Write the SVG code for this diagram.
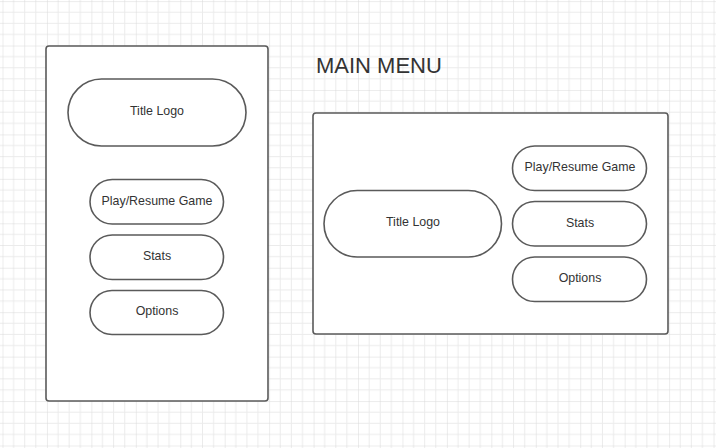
<svg xmlns="http://www.w3.org/2000/svg" width="716" height="448" viewBox="0 0 716 448">
<defs>
<pattern id="grid" width="44.44" height="44.44" patternUnits="userSpaceOnUse" patternTransform="translate(2.5 1.1)">
<path d="M11.11 0V44.44M22.22 0V44.44M33.33 0V44.44M0 11.11H44.44M0 22.22H44.44M0 33.33H44.44" stroke="#ebebeb" stroke-width="1" fill="none"/>
<path d="M0 0V44.44M0 0H44.44" stroke="#d9d9d9" stroke-width="1" fill="none"/>
</pattern>
<style>
.frame{fill:#fff;stroke:#5a5a5a;stroke-width:1.6}
.pill{fill:#fff;stroke:#5a5a5a;stroke-width:1.6}
.lbl{font-family:"Liberation Sans",Arial,sans-serif;font-size:12.4px;fill:#333;text-anchor:middle}
.title{font-family:"Liberation Sans",Arial,sans-serif;font-size:22px;fill:#333}
</style>
</defs>
<rect width="716" height="448" fill="#fff"/>
<rect width="716" height="448" fill="url(#grid)"/>
<g id="portrait-screen">
<rect class="frame" x="46" y="46" width="222" height="355" rx="3"/>
</g>
<g id="portrait-title-logo">
<rect class="pill" x="68" y="79" width="178" height="67" rx="33.5"/>
<text class="lbl" x="157" y="115">Title Logo</text>
</g>
<g id="portrait-play">
<rect class="pill" x="90" y="179.5" width="133.5" height="44.5" rx="22.25"/>
<text class="lbl" x="157" y="204.5">Play/Resume Game</text>
</g>
<g id="portrait-stats">
<rect class="pill" x="90" y="235" width="133.5" height="44.5" rx="22.25"/>
<text class="lbl" x="157" y="260">Stats</text>
</g>
<g id="portrait-options">
<rect class="pill" x="90" y="290.5" width="133.5" height="44" rx="22"/>
<text class="lbl" x="157" y="315">Options</text>
</g>
<g id="main-menu-title">
<text class="title" x="316" y="73">MAIN MENU</text>
</g>
<g id="landscape-screen">
<rect class="frame" x="313" y="113" width="355" height="221" rx="3"/>
</g>
<g id="landscape-title-logo">
<rect class="pill" x="324" y="190.5" width="177.5" height="66.5" rx="33.25"/>
<text class="lbl" x="413" y="226">Title Logo</text>
</g>
<g id="landscape-play">
<rect class="pill" x="512.5" y="146" width="134" height="44.5" rx="22.25"/>
<text class="lbl" x="580" y="171">Play/Resume Game</text>
</g>
<g id="landscape-stats">
<rect class="pill" x="512.5" y="201.5" width="134" height="44.5" rx="22.25"/>
<text class="lbl" x="580" y="226.5">Stats</text>
</g>
<g id="landscape-options">
<rect class="pill" x="512.5" y="257" width="134" height="44.5" rx="22.25"/>
<text class="lbl" x="580" y="282">Options</text>
</g>
<g id="connectors"></g>
</svg>
